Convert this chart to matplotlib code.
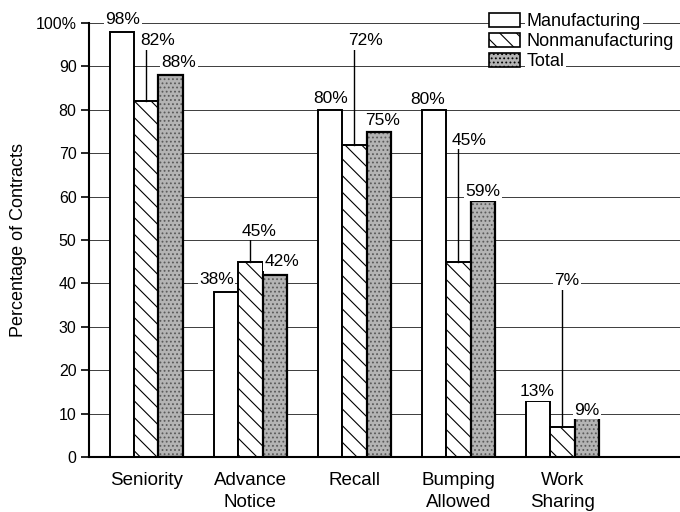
import matplotlib
matplotlib.use("Agg")
import matplotlib.pyplot as plt
import numpy as np
from matplotlib.patches import Patch

plt.rcParams['font.family'] = ['Liberation Sans', 'DejaVu Sans']
plt.rcParams['hatch.linewidth'] = 0.8

categories = ["Seniority", "Advance\nNotice", "Recall", "Bumping\nAllowed", "Work\nSharing"]
manufacturing = [98, 38, 80, 80, 13]
nonmanufacturing = [82, 45, 72, 45, 7]
total = [88, 42, 75, 59, 9]
series_names = ["Manufacturing", "Nonmanufacturing", "Total"]
ytick_labels = ["0", "10", "20", "30", "40", "50", "60", "70", "80", "90", "100%"]

# label placement (y of label centre, x offset in category units, leader line flag)
label_y = [
    [100.9, 40.8, 82.7, 82.3, 15.0],
    [95.9, 52.0, 95.9, 73.0, 40.6],
    [91.0, 45.0, 77.6, 61.1, 10.8],
]
label_dx = [
    [0.01, -0.09, 0.01, -0.06, -0.01],
    [0.11, 0.08, 0.11, 0.10, 0.04],
    [0.08, 0.07, 0.04, 0.0, 0.0],
]
leader = [
    [False] * 5,
    [True] * 5,
    [False] * 5,
]

W, H = 680, 512
fig = plt.figure(figsize=(W / 100, H / 100), dpi=100)
ax = fig.add_axes([89 / W, 55 / H, 1 - 89 / W, (457 - 23) / H])
ax.set_ylim(0, 100)
ax.set_xlim(-0.55, 5.13)

x = np.arange(len(categories))
w = 0.235
FS = 13.5

# gridlines
for yv in range(10, 101, 10):
    ax.axhline(yv, color='#3c3c3c', lw=0.7, zorder=0)

ax.bar(x - w, manufacturing, w, facecolor='white', edgecolor='black', lw=1.4, zorder=2)
ax.bar(x, nonmanufacturing, w, facecolor='white', edgecolor='black', lw=1.4, hatch='\\\\',
       zorder=2)
# stippled total bars: texture layer then outline
ax.bar(x + w, total, w, facecolor='#b4b4b4', edgecolor='#5a5a5a', lw=0, hatch='....', zorder=2)
ax.bar(x + w, total, w, facecolor='none', edgecolor='black', lw=1.6, zorder=3)

series = [manufacturing, nonmanufacturing, total]
for si, vals in enumerate(series):
    for ci, v in enumerate(vals):
        bx = x[ci] + (si - 1) * w
        ly = label_y[si][ci]
        if leader[si][ci]:
            ax.plot([bx, bx], [v, ly - 1.9], color='black', lw=1.0, zorder=4)
        ax.text(bx + label_dx[si][ci], ly, f"{v}%", ha='center', va='center', fontsize=12.5,
                zorder=5, bbox=dict(facecolor='white', edgecolor='none', pad=1.0))

# axes styling
for s in ['top', 'right']:
    ax.spines[s].set_visible(False)
ax.spines['left'].set_linewidth(1.5)
ax.spines['bottom'].set_linewidth(1.5)
ax.set_yticks(range(0, 101, 10))
ax.set_yticklabels(ytick_labels, fontsize=11.5)
ax.tick_params(axis='y', length=6, width=1.2, pad=3)
ax.set_xticks(x)
ax.set_xticklabels(categories, fontsize=FS, linespacing=1.4)
ax.tick_params(axis='x', length=0, pad=11)
ax.set_ylabel("Percentage of Contracts", fontsize=13, labelpad=6)

handles = [
    Patch(facecolor='white', edgecolor='black', lw=1.2),
    Patch(facecolor='white', edgecolor='black', lw=1.2, hatch='\\\\'),
    Patch(facecolor='#b4b4b4', edgecolor='black', lw=1.2, hatch='....'),
]
leg = ax.legend(handles, series_names, loc='upper left', bbox_to_anchor=(489 / W, 1 - 13 / H),
                bbox_transform=fig.transFigure, fontsize=13, frameon=False,
                handlelength=1.7, handleheight=0.8, handletextpad=0.4, labelspacing=0.15,
                borderpad=0.0, borderaxespad=0.0)
for t in leg.get_texts():
    t.set_bbox(dict(facecolor='white', edgecolor='none', pad=1.0))
leg.set_zorder(6)

fig.savefig("out.png", dpi=100)
